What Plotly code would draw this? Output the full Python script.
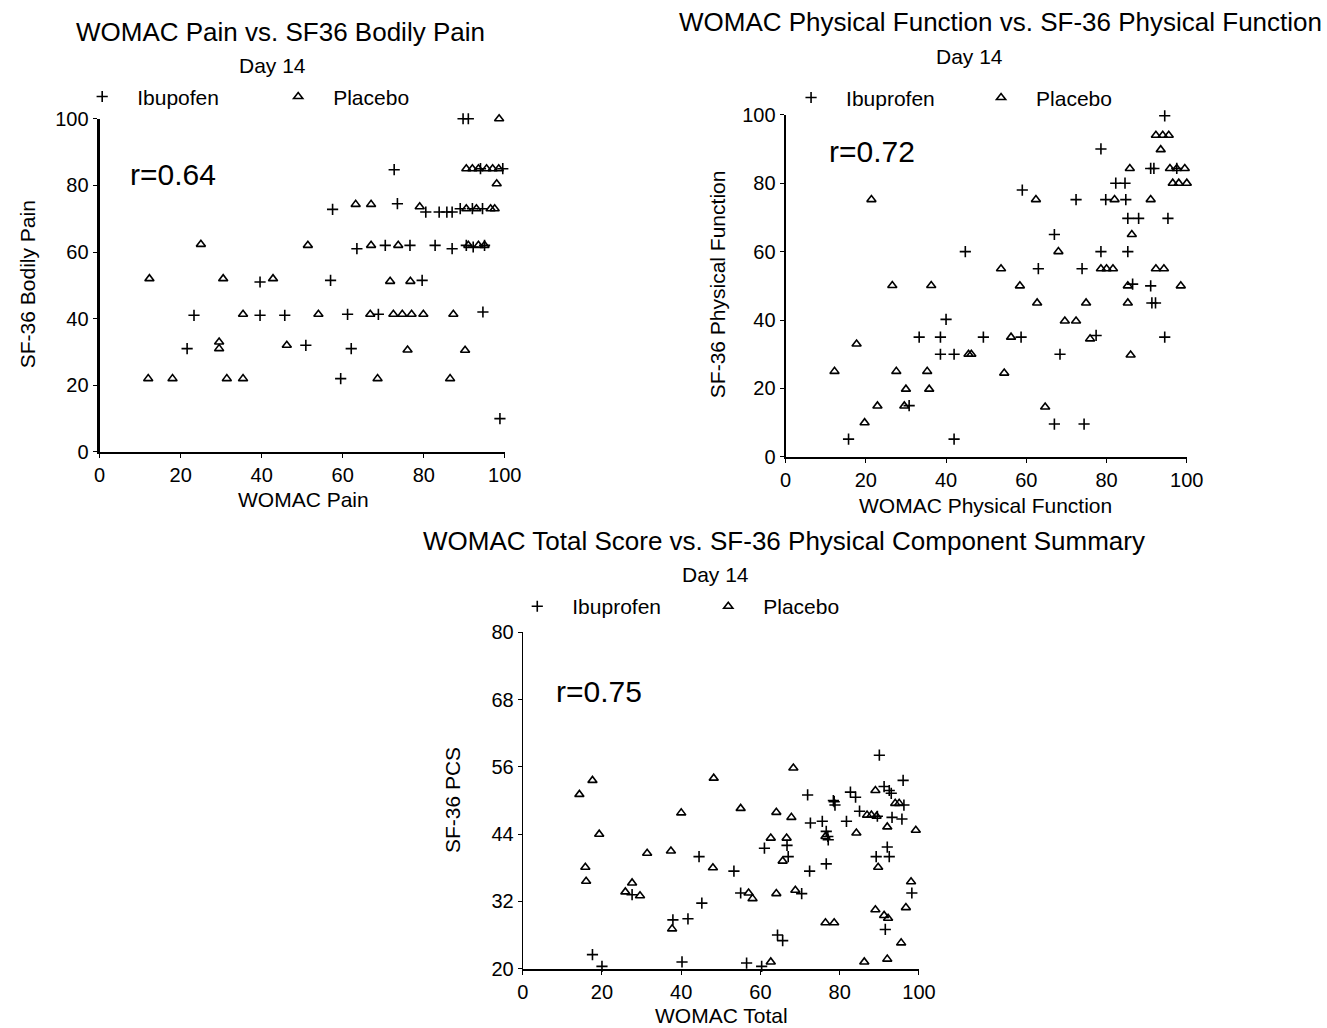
import plotly.graph_objects as go

# ---------------- Data ----------------
# Panel 1: WOMAC Pain vs SF36 Bodily Pain
pain_ibu_x = [23.3, 21.6, 39.6, 39.6, 45.7, 50.9, 57.0, 57.5, 61.2, 62.1, 59.5, 72.7, 73.5, 63.5, 70.5,
              76.6, 68.8, 79.6, 80.5, 83.8, 85.7, 87.0, 82.8, 87.0, 94.6, 98.8, 89.7, 91.0, 90.5, 92.2,
              95.0, 89.0, 92.0, 94.5, 94.0, 99.5]
pain_ibu_y = [41, 31, 51, 41, 41, 32, 51.5, 72.8, 41.3, 31, 22, 84.7, 74.5, 61, 62,
              62, 41.3, 51.5, 72, 72, 72, 72, 62, 61, 42, 10, 100, 100, 62, 61.5,
              62, 73, 73, 73, 85, 85]
pain_pla_x = [12.3, 12.0, 18.0, 25.0, 30.5, 29.5, 29.5, 31.4, 35.4, 35.4, 42.8, 46.2, 54.0, 51.4, 63.2,
              67.0, 67.0, 68.6, 66.8, 72.5, 74.7, 77.0, 79.9, 71.7, 76.7, 76.0, 73.7, 79.0, 86.5, 90.2,
              87.3, 98.6, 98.0, 91.0, 93.5, 95.0, 90.5, 93.0, 96.5, 97.5, 90.5, 92.0, 93.5, 95.5, 97.0, 98.5]
pain_pla_y = [52, 22, 22, 62.3, 52, 31, 33, 22, 22, 41.3, 52, 32, 41.3, 62, 74.3,
              74.3, 62, 22, 41.3, 41.3, 41.3, 41.3, 41.3, 51.2, 51.2, 30.6, 62, 73.6, 22, 30.5,
              41.3, 100, 80.5, 62, 62, 62, 73, 73, 73, 73, 85, 85, 85, 85, 85, 85]

# Panel 2: WOMAC Physical Function vs SF-36 Physical Function
pf_ibu_x = [44.8, 94.5, 78.6, 91.0, 91.8, 97.5, 82.3, 84.6, 59.0, 72.4, 79.8, 84.8, 85.3, 88.0, 95.3,
            67.0, 78.6, 85.3, 63.0, 73.9, 40.0, 33.3, 38.6, 49.3, 38.6, 42.0, 15.7, 42.0, 30.8, 58.7,
            77.4, 94.5, 68.4, 67.0, 74.4, 86.5, 91.0, 91.3, 92.2]
pf_ibu_y = [60, 99.7, 90, 84.3, 84.3, 84.3, 80, 80, 78, 75.2, 75.2, 75.2, 69.7, 69.7, 69.7,
            65, 60, 60, 55, 55, 40.2, 35, 35, 35, 30, 30, 5.2, 5.2, 15, 35,
            35.5, 35, 30, 9.6, 9.6, 50.5, 50, 45, 45]
pf_pla_x = [21.4, 92.3, 94.0, 95.5, 93.5, 85.8, 95.8, 97.5, 99.5, 96.5, 98.0, 100.0, 62.4, 82.0, 91.0,
            86.3, 68.0, 53.7, 78.6, 80.0, 81.6, 92.3, 94.3, 58.4, 85.3, 98.5, 62.7, 74.9, 85.3, 69.6,
            72.4, 56.2, 75.9, 86.0, 54.5, 64.7, 26.6, 36.3, 17.7, 46.3, 45.6, 12.2, 27.6, 35.3, 30.0,
            35.8, 22.9, 29.6, 19.7]
pf_pla_y = [75.2, 94, 94, 94, 89.8, 84.3, 84.3, 84.3, 84.3, 80, 80, 80, 75.2, 75.2, 75.2,
            65, 60, 55, 55, 55, 55, 55, 55, 50, 50, 50, 45, 45, 45, 39.7,
            39.7, 35, 34.5, 29.8, 24.5, 14.6, 50.1, 50.1, 33, 30, 30, 25, 25, 25, 19.8,
            19.8, 14.9, 14.9, 10]

# Panel 3: WOMAC Total vs SF-36 PCS
tot_ibu_x = [27.6, 17.6, 20.0, 40.2, 37.9, 41.7, 45.2, 44.5, 90.0, 96.0, 91.2, 92.5, 93.0, 82.7, 84.0,
             71.9, 78.4, 78.8, 78.6, 96.2, 85.0, 89.5, 93.2, 95.7, 72.6, 75.6, 81.7, 76.6, 77.0, 61.0,
             66.7, 67.0, 77.1, 92.0, 92.5, 89.2, 76.6, 72.4, 53.3, 98.2, 55.0, 70.4, 91.5, 64.3, 65.6,
             56.5, 60.3]
tot_ibu_y = [33.2, 22.5, 20.4, 21.2, 28.7, 28.9, 31.7, 40.0, 58.1, 53.6, 52.5, 51.8, 51.3, 51.5, 50.6,
             51.0, 50.0, 49.2, 49.8, 49.2, 48.1, 47.2, 47.0, 46.7, 46.0, 46.3, 46.3, 44.5, 43.6, 41.5,
             42.0, 40.0, 43.0, 41.7, 40.0, 40.0, 38.7, 37.4, 37.4, 33.5, 33.5, 33.4, 27.0, 26.0, 25.0,
             21.0, 20.4]
tot_pla_x = [17.6, 14.3, 19.3, 15.8, 16.0, 40.0, 31.4, 37.4, 27.6, 25.9, 29.6, 37.7, 48.0, 48.2, 68.3,
             89.0, 94.0, 55.0, 64.0, 67.8, 86.9, 88.0, 89.3, 92.0, 99.2, 84.2, 62.6, 66.6, 76.4, 65.6,
             89.7, 98.0, 57.0, 58.0, 64.0, 68.8, 96.7, 89.0, 91.2, 92.2, 76.4, 78.6, 95.5, 86.2, 92.0,
             62.6, 95.0]
tot_pla_y = [53.6, 51.1, 44.0, 38.1, 35.6, 47.8, 40.6, 41.0, 35.3, 33.7, 33.0, 27.1, 38.0, 54.0, 55.8,
             51.8, 49.5, 48.6, 47.9, 47.0, 47.4, 47.4, 47.2, 45.3, 44.7, 44.2, 43.3, 43.3, 43.6, 39.2,
             38.1, 35.5, 33.5, 32.5, 33.4, 34.0, 30.9, 30.5, 29.5, 29.0, 28.2, 28.2, 24.6, 21.2, 21.7,
             21.2, 49.5]

x_ticks_100 = [0, 20, 40, 60, 80, 100]
y_ticks_100 = [0, 20, 40, 60, 80, 100]
y_ticks_pcs = [20, 32, 44, 56, 68, 80]

FONT = "Liberation Sans, Arial, sans-serif"
W, H = 1327, 1028


# screenshot mapping compensation (measured): screen = s*design + o
def dx(x):
    return (x - 4) / 0.987


def dy(y):
    return (y - 9) / 0.981


def px(x):
    return dx(x) / W


def py(y):
    return 1 - dy(y) / H


fig = go.Figure()

panels = [
    ("x", "y", pain_ibu_x, pain_ibu_y, pain_pla_x, pain_pla_y, "legend", "Ibupofen"),
    ("x2", "y2", pf_ibu_x, pf_ibu_y, pf_pla_x, pf_pla_y, "legend2", "Ibuprofen"),
    ("x3", "y3", tot_ibu_x, tot_ibu_y, tot_pla_x, tot_pla_y, "legend3", "Ibuprofen"),
]
for xa, ya, ix, iy, plx, ply, leg, ibu_name in panels:
    fig.add_trace(go.Scatter(
        x=ix, y=iy, xaxis=xa, yaxis=ya, mode="markers", name=ibu_name, legend=leg,
        cliponaxis=False,
        marker=dict(symbol="cross-thin", size=8, color="black", line=dict(color="black", width=1.6)),
    ))
    fig.add_trace(go.Scatter(
        x=plx, y=ply, xaxis=xa, yaxis=ya, mode="markers", name="Placebo", legend=leg,
        cliponaxis=False,
        marker=dict(symbol="triangle-up-open", size=8, color="black", line=dict(color="black", width=1.6)),
    ))

axis_common = dict(showgrid=False, zeroline=False, showline=True, linecolor="black",
                   ticks="outside", ticklen=4, tickwidth=1, tickcolor="black",
                   tickfont=dict(family=FONT, size=20, color="black"))

fig.update_layout(
    width=W, height=H, margin=dict(l=0, r=0, t=0, b=0),
    paper_bgcolor="white", plot_bgcolor="white",
    font=dict(family=FONT, color="black"),
    xaxis=dict(domain=[px(98), px(505)], range=[0, 100], tickvals=x_ticks_100, linewidth=2,
               anchor="y", **axis_common),
    yaxis=dict(domain=[py(451), py(117)], range=[0, 100], tickvals=y_ticks_100, linewidth=3,
               anchor="x", **axis_common),
    xaxis2=dict(domain=[px(787), px(1190)], range=[0, 100], tickvals=x_ticks_100, linewidth=2,
                anchor="y2", **axis_common),
    yaxis2=dict(domain=[py(456), py(113)], range=[0, 100], tickvals=y_ticks_100, linewidth=2,
                anchor="x2", **axis_common),
    xaxis3=dict(domain=[px(523), px(921)], range=[0, 100], tickvals=x_ticks_100, linewidth=2,
                anchor="y3", **axis_common),
    yaxis3=dict(domain=[py(969), py(632)], range=[20, 80], tickvals=y_ticks_pcs, linewidth=1,
                anchor="x3", **axis_common),
)

legend_common = dict(orientation="h", font=dict(family=FONT, size=21, color="black"),
                     bgcolor="rgba(0,0,0,0)", xanchor="left", yanchor="middle", itemwidth=60,
                     entrywidthmode="pixels", itemclick=False, itemdoubleclick=False)
fig.update_layout(
    legend=dict(x=(dx(100) - 35) / W, y=1 - (dy(98) - 3) / H, entrywidth=121, **legend_common),
    legend2=dict(x=(dx(812) - 35) / W, y=1 - (dy(99) - 3) / H, entrywidth=115, **legend_common),
    legend3=dict(x=(dx(537) - 35) / W, y=1 - (dy(609) - 3) / H, entrywidth=116, **legend_common),
)

ann = []


def text(x, y, t, size, angle=0, xanchor="center", shift_x=0.0, shift_y=0.0):
    ann.append(dict(x=(dx(x) + shift_x) / W, y=1 - (dy(y) + shift_y) / H, xref="paper", yref="paper",
                    text=t, showarrow=False, textangle=angle, xanchor=xanchor, yanchor="middle",
                    font=dict(family=FONT, size=size, color="black")))


# Titles
text(280, 32, "WOMAC Pain vs. SF36 Bodily Pain", 26, shift_y=-1.5)
text(272, 65, "Day 14", 21, shift_y=-1.5)
text(1003, 21, "WOMAC Physical Function vs. SF-36 Physical Function", 26, shift_y=-1.5)
text(972, 56, "Day 14", 21, shift_y=-1.5)
text(785, 542, "WOMAC Total Score vs. SF-36 Physical Component Summary", 26, shift_y=-1.5)
text(717, 575, "Day 14", 21, shift_y=-1.5)
# Axis titles
text(25, 283, "SF-36 Bodily Pain", 21, angle=-90)
text(303, 500, "WOMAC Pain", 21, shift_y=-1.5)
text(718, 283, "SF-36 Physical Function", 21, angle=-90)
text(988, 506, "WOMAC Physical Function", 21, shift_y=-1.5)
text(452, 800, "SF-36 PCS", 21, angle=-90)
text(723, 1017, "WOMAC Total", 21, shift_y=-1.5)
# Correlations
text(130, 173, "r=0.64", 30, xanchor="left", shift_x=-3)
text(832, 150, "r=0.72", 30, xanchor="left", shift_x=-3)
text(557, 691, "r=0.75", 30, xanchor="left", shift_x=-3)

fig.update_layout(annotations=ann)

fig.write_html("out.html")
